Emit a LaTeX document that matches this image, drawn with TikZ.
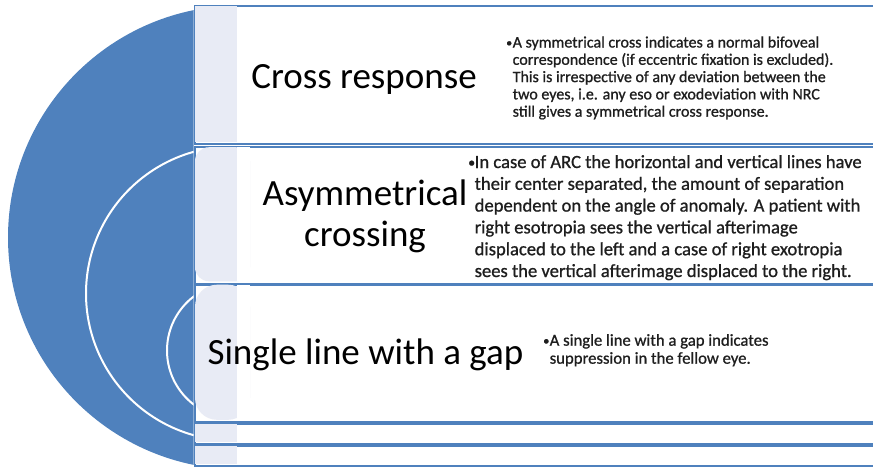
\documentclass[tikz,border=0pt]{standalone}
\usepackage{fontspec}
\setmainfont{Carlito}
\newfontfamily\bodyfont{Carlito}[FakeBold=0.9]
\definecolor{arcblue}{HTML}{4F81BD}
\definecolor{stripe}{HTML}{E8EBF5}
\definecolor{bodyink}{HTML}{1E1E1E}

\tikzset{
  rowbox/.style={draw=arcblue, line width=2.4pt, fill=white, anchor=north west,
    inner sep=0pt, minimum width=700pt},
  title/.style={inner sep=0pt, font=\fontsize{37}{41}\selectfont, align=center},
  bodytext/.style={inner sep=0pt, anchor=base west, text=bodyink},
}
\newcommand{\bulletlines}[1]{%
  \begin{tabular}[t]{@{}l@{}l@{}}#1\end{tabular}}
\newcommand{\bul}{\makebox[6.5pt][l]{\raisebox{0.05em}{\scalebox{0.75}{\textbullet}}}}

\begin{document}
\begin{tikzpicture}[x=1pt,y=-1pt]
\useasboundingbox (0,0) rectangle (873,466);
\clip (0,0) rectangle (873,466);

% half disc with its two inner arcs
\begin{scope}
  \clip (0,0) rectangle (193.5,466);
  \fill[arcblue] (240,237.5) circle (232);
  \draw[white, line width=2pt] (233,293.5) circle (147);
  \draw[white, line width=2pt] (235,350.5) circle (68);
\end{scope}

% rows
\node[rowbox, minimum height=138pt] (r1) at (193.5,5) {};
\node[rowbox, minimum height=136.5pt] (r2) at (193.5,146) {};
\node[rowbox, minimum height=137.5pt] (r3) at (193.5,283.5) {};
\node[rowbox, minimum height=20.5pt] (r4) at (193.5,422.5) {};
\node[rowbox, minimum height=20.5pt] (r5) at (193.5,444.5) {};

% shaded strip along the left side of each row
\fill[stripe] (195,6.2) rectangle (237,141.8);
\fill[stripe, rounded corners=14pt] (195,147.2) rectangle (250,281.3);
\fill[stripe, rounded corners=22pt] (195,284.7) rectangle (250,419.8);
\fill[white] (237,147.2) rectangle (250,281.3);
\fill[white] (237,284.7) rectangle (250,419.8);
\fill[stripe] (195,423.7) rectangle (237,441.8);
\fill[stripe] (195,445.7) rectangle (237,463.8);

% titles
\node[title, anchor=base] (t1) at (364,88) {Cross response};
\node[title] (t2) at (365,216) {Asymmetrical\\crossing};
\node[title, anchor=base] (t3) at (365.5,364) {Single line with a gap};

% descriptions
\node[bodytext, font=\bodyfont\fontsize{16}{17.3}\selectfont] (d1) at (506,47.5) {\bulletlines{%
  \bul & A symmetrical cross indicates a normal bifoveal\\
  & correspondence (if eccentric fixation is excluded).\\
  & This is irrespective of any deviation between the\\
  & two eyes, i.e. any eso or exodeviation with NRC\\
  & still gives a symmetrical cross response.}};
\node[bodytext, font=\bodyfont\fontsize{18.6}{21.8}\selectfont] (d2) at (468,168) {\bulletlines{%
  \bul & In case of ARC the horizontal and vertical lines have\\
  & their center separated, the amount of separation\\
  & dependent on the angle of anomaly. A patient with\\
  & right esotropia sees the vertical afterimage\\
  & displaced to the left and a case of right exotropia\\
  & sees the vertical afterimage displaced to the right.}};
\node[bodytext, font=\bodyfont\fontsize{16.7}{18}\selectfont] (d3) at (543,345.7) {\bulletlines{%
  \bul & A single line with a gap indicates\\
  & suppression in the fellow eye.}};
\end{tikzpicture}
\end{document}
